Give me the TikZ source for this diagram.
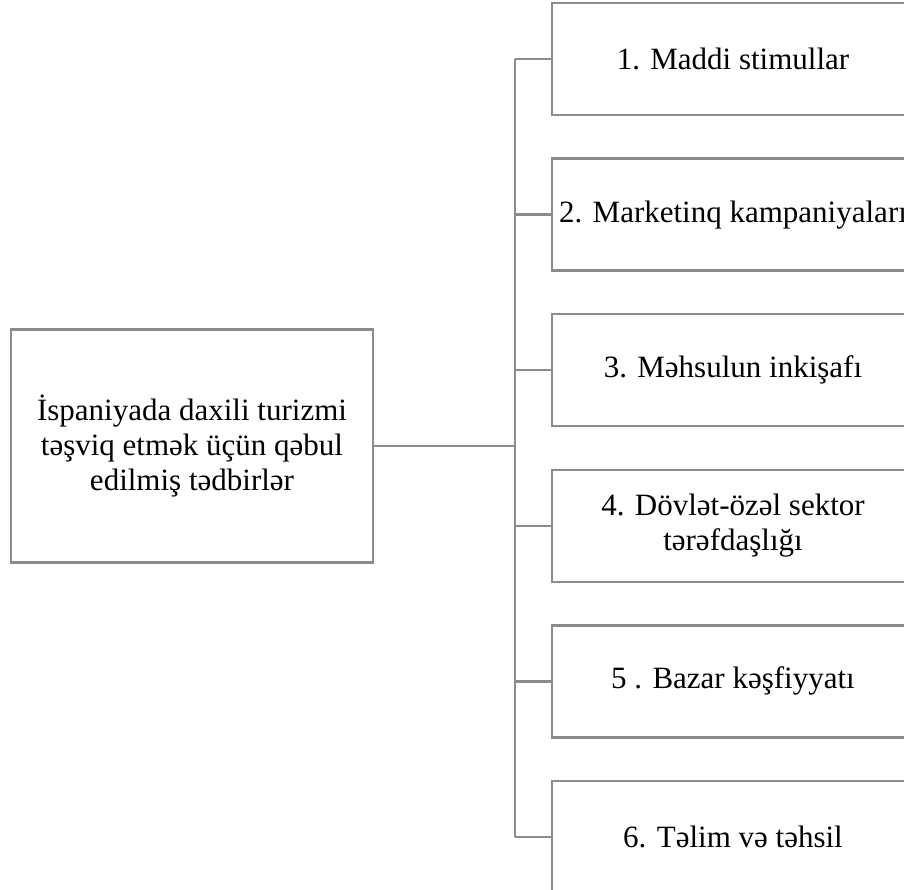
\documentclass[tikz,border=0pt]{standalone}
\usepackage{fontspec}
\setmainfont{Liberation Serif}
\definecolor{boxgray}{RGB}{140,140,140}

\begin{document}
\begin{tikzpicture}[x=1pt,y=-1pt,
  box/.style={draw=boxgray,line width=2.5pt,minimum width=362pt,inner sep=0pt,
    align=center,font=\fontsize{31}{35}\selectfont},
  link/.style={boxgray,line width=2.5pt}]
\useasboundingbox (0,0) rectangle (904,890);
\clip (0,0) rectangle (904,890);

% main box
\node[box,minimum height=233pt] (root) at (192,446)
  {İspaniyada daxili turizmi\\təşviq etmək üçün qəbul\\edilmiş tədbirlər};

% measures
\foreach \i/\txt in {1/{1. Maddi stimullar},2/{2. Marketinq kampaniyaları},
  3/{3. Məhsulun inkişafı},4/{4. Dövlət-özəl sektor\\tərəfdaşlığı},
  5/{5 . Bazar kəşfiyyatı},6/{6. Təlim və təhsil}}
  \node[box,minimum height=112pt] (m\i) at (733,{59+155.6*(\i-1)}) {\txt};

% connectors
\coordinate (bus) at (515,446);
\draw[link] (root.east) -- (bus);
\draw[link] (m1.west -| bus) -- (m6.west -| bus);
\foreach \i in {1,...,6}
  \draw[link] (m\i.west -| bus) -- (m\i.west);
\end{tikzpicture}
\end{document}
